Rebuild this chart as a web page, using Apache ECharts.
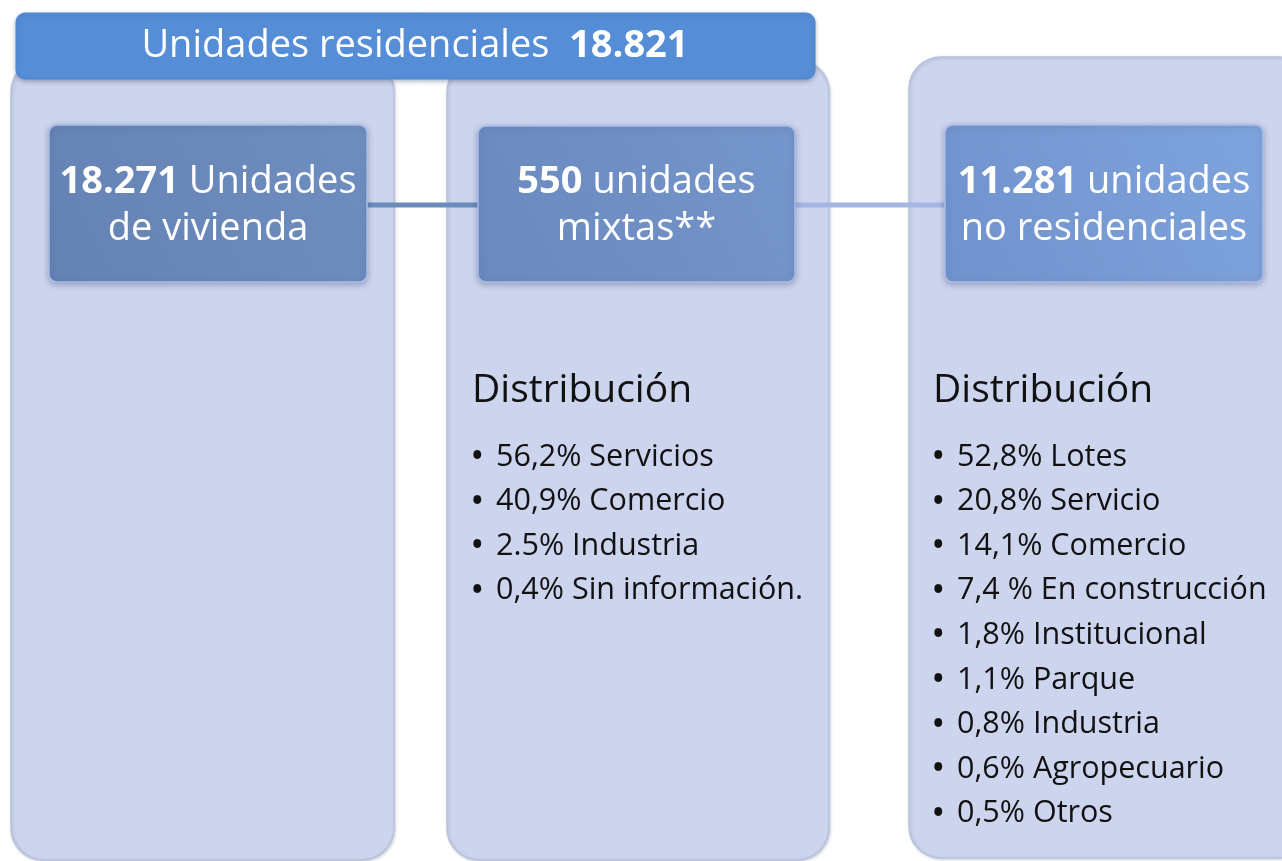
<!DOCTYPE html>
<html>
<head>
<meta charset="utf-8">
<script src="https://cdn.jsdelivr.net/npm/echarts@6/dist/echarts.min.js"></script>
<style>
html,body{margin:0;padding:0;background:#fff;}
#chart{width:1282px;height:861px;}
</style>
</head>
<body>
<div id="chart"></div>
<script>
// cifras principales
var totalResidencial = '18.821';
var boxNumbers = ['18.271', '550', '11.281'];
var boxLine1 = [' Unidades', ' unidades', ' unidades'];
var boxLine2 = ['de vivienda', 'mixtas**', 'no residenciales'];

// distribucion de unidades mixtas
var mixtasPct = ['56,2%', '40,9%', '2.5%', '0,4%'];
var mixtasCat = ['Servicios', 'Comercio', 'Industria', 'Sin información.'];

// distribucion de unidades no residenciales
var noResPct = ['52,8%', '20,8%', '14,1%', '7,4 %', '1,8%', '1,1%', '0,8%', '0,6%', '0,5%'];
var noResCat = ['Lotes', 'Servicio', 'Comercio', 'En construcción', 'Institucional', 'Parque', 'Industria', 'Agropecuario', 'Otros'];

var FONT = '"Open Sans", "Noto Sans", sans-serif';
var chart = echarts.init(document.getElementById('chart'));

// columnas de fondo
var panels = [
    {x: 11, y: 60, w: 383, h: 800},
    {x: 447, y: 60, w: 382, h: 800},
    {x: 909, y: 57, w: 400, h: 801}
];
// cajas internas
var boxes = [
    {x: 49, y: 125, w: 318, h: 157, c1: '#6f8ec0', c2: '#6482b3'},
    {x: 478, y: 126, w: 317, h: 156, c1: '#7596cc', c2: '#6a89bd'},
    {x: 945, y: 125, w: 318, h: 157, c1: '#7fa4dd', c2: '#7192cc'}
];

var elements = [];

panels.forEach(function (p) {
    elements.push({
        type: 'rect',
        shape: {x: p.x, y: p.y, width: p.w, height: p.h, r: 32},
        style: {
            fill: '#cdd5ee',
            stroke: '#b7c2dc',
            lineWidth: 1.5,
            shadowBlur: 3,
            shadowColor: 'rgba(80,90,120,0.25)',
            shadowOffsetX: 1,
            shadowOffsetY: 1
        }
    });
});

// conectores
elements.push({
    type: 'line',
    shape: {x1: 366, y1: 205, x2: 478, y2: 205},
    style: {stroke: '#6b8bbd', lineWidth: 5}
});
elements.push({
    type: 'line',
    shape: {x1: 795, y1: 205, x2: 945, y2: 205},
    style: {stroke: '#a3b6e2', lineWidth: 5}
});

// cabecera
elements.push({
    type: 'rect',
    shape: {x: 16, y: 13, width: 799, height: 66, r: 9},
    style: {
        fill: '#558ed6',
        stroke: '#4f86cc',
        lineWidth: 1,
        shadowBlur: 4,
        shadowColor: 'rgba(40,60,100,0.35)',
        shadowOffsetY: 2
    }
});
elements.push({
    type: 'text',
    x: 415, y: 46,
    style: {
        text: 'Unidades residenciales  {b|' + totalResidencial + '}',
        fill: '#fff',
        font: '38px ' + FONT,
        align: 'center',
        verticalAlign: 'middle',
        rich: {b: {fill: '#fff', fontWeight: 'bold', fontSize: 38, fontFamily: FONT}}
    }
});

boxes.forEach(function (b, i) {
    elements.push({
        type: 'rect',
        shape: {x: b.x, y: b.y, width: b.w, height: b.h, r: 8},
        style: {
            fill: new echarts.graphic.LinearGradient(1, 0, 0, 1, [
                {offset: 0, color: b.c1},
                {offset: 1, color: b.c2}
            ]),
            stroke: '#a9bde6',
            lineWidth: 1.5,
            shadowBlur: 6,
            shadowColor: 'rgba(40,60,110,0.35)',
            shadowOffsetY: 2
        }
    });
    var cx = b.x + b.w / 2;
    elements.push({
        type: 'text',
        x: cx, y: 182,
        style: {
            text: '{b|' + boxNumbers[i] + '}' + boxLine1[i],
            fill: '#fff',
            font: '38px ' + FONT,
            align: 'center',
            verticalAlign: 'middle',
            rich: {b: {fill: '#fff', fontWeight: 'bold', fontSize: 38, fontFamily: FONT}}
        }
    });
    elements.push({
        type: 'text',
        x: cx, y: 229,
        style: {
            text: boxLine2[i],
            fill: '#fff',
            font: '38px ' + FONT,
            align: 'center',
            verticalAlign: 'middle'
        }
    });
});

function addList(x, pct, cat) {
    elements.push({
        type: 'text',
        x: x, y: 391,
        style: {text: 'Distribución', fill: '#111', font: '39px ' + FONT, verticalAlign: 'middle'}
    });
    for (var i = 0; i < pct.length; i++) {
        var y = 457 + i * 44.6;
        elements.push({
            type: 'text',
            x: x, y: y,
            style: {text: '•', fill: '#111', font: 'bold 28px ' + FONT, verticalAlign: 'middle'}
        });
        elements.push({
            type: 'text',
            x: x + 24, y: y,
            style: {text: pct[i] + ' ' + cat[i], fill: '#111', font: '30.5px ' + FONT, verticalAlign: 'middle'}
        });
    }
}
addList(472, mixtasPct, mixtasCat);
addList(933, noResPct, noResCat);

chart.setOption({
    animation: false,
    graphic: {elements: elements}
});
</script>
</body>
</html>
